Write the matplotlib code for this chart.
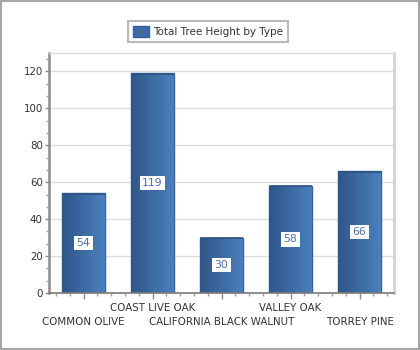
import numpy as np
import matplotlib
matplotlib.use("Agg")
import matplotlib.pyplot as plt
from matplotlib.ticker import MultipleLocator
from matplotlib.patches import Rectangle

trees = ["COMMON OLIVE", "COAST LIVE OAK", "CALIFORNIA BLACK WALNUT",
         "VALLEY OAK", "TORREY PINE"]
heights = [54, 119, 30, 58, 66]
series_name = "Total Tree Height by Type"

txt = "#333333"
plt.rcParams["font.family"] = ["DejaVu Sans"]

fig = plt.figure(figsize=(4.2, 3.5), dpi=100)
fig.patch.set_facecolor("white")
# outer frame
fig.add_artist(Rectangle((0.002, 0.003), 0.995, 0.994, transform=fig.transFigure,
                         fill=False, edgecolor="#a6a6a6", lw=1.5))

ax = fig.add_axes([49/420, 57/350, 345/420, 240/350])
x = np.arange(len(trees))
bars = ax.bar(x, heights, width=0.61, color="#3d6aa3", edgecolor="#35609a",
              lw=1.0, zorder=2)

# horizontal gradient inside each bar
grad = np.linspace(0, 1, 64).reshape(1, -1)
cmap = matplotlib.colors.LinearSegmentedColormap.from_list("b", ["#2f5688", "#4b7fbd"])
for b in bars:
    x0, y0 = b.get_x(), b.get_y()
    im = ax.imshow(grad, extent=(x0, x0 + b.get_width(), y0, y0 + b.get_height()),
                   cmap=cmap, aspect="auto", zorder=2.5)
    im.set_clip_path(b)
    ax.plot([x0 + 0.01, x0 + b.get_width() - 0.01], [b.get_height() - 0.3] * 2,
            color="#2c5282", lw=1.2, zorder=3)

for xi, h in zip(x, heights):
    ax.text(xi, h / 2, str(h), ha="center", va="center", fontsize=7.8,
            color="#4a72ad", zorder=4,
            bbox=dict(boxstyle="square,pad=0.2", fc="white", ec="none"))

ax.set_xlim(-0.5, len(trees) - 0.5)
ax.set_ylim(0, 130)
ax.yaxis.set_major_locator(MultipleLocator(20))
ax.yaxis.set_minor_locator(MultipleLocator(20 / 3))
ax.set_xticks(x)
ax.set_xticks(np.arange(-0.4, len(trees) - 0.5, 0.2), minor=True)
ax.set_xticklabels(trees)
ax.tick_params(axis="both", which="major", length=4, width=1, color="#8c8c8c",
               labelcolor=txt, labelsize=7.4)
ax.tick_params(axis="both", which="minor", length=2.5, width=1, color="#a0a0a0")
ax.tick_params(axis="y", which="major", length=3, pad=1.5)
# staggered category labels
for i, tk in enumerate(ax.xaxis.get_major_ticks()):
    tk.set_pad(13 if i % 2 == 0 else 3)

ax.grid(axis="y", which="major", color="#dedede", lw=1, zorder=0)
ax.set_axisbelow(True)
ax.spines["left"].set_color("#8c8c8c")
ax.spines["left"].set_linewidth(1.8)
ax.spines["bottom"].set_color("#7a7a7a")
ax.spines["bottom"].set_linewidth(1.2)
ax.spines["right"].set_color("#d4d4d4")
ax.spines["right"].set_linewidth(2)
ax.spines["top"].set_color("#dcdcdc")
ax.spines["top"].set_linewidth(1)

leg = fig.legend([bars[0]], [series_name], loc="center",
                 bbox_to_anchor=(208/420, 1 - 31.5/350), fontsize=7.5,
                 frameon=True, fancybox=False, handlelength=1.5, handleheight=1.3,
                 borderpad=0.45, handletextpad=0.4, labelcolor=txt)
leg.get_frame().set_edgecolor("#a8a8a8")
leg.get_frame().set_linewidth(1.5)
leg.legend_handles[0].set_facecolor("#3d6aa3")

fig.savefig("out.png", dpi=100)
